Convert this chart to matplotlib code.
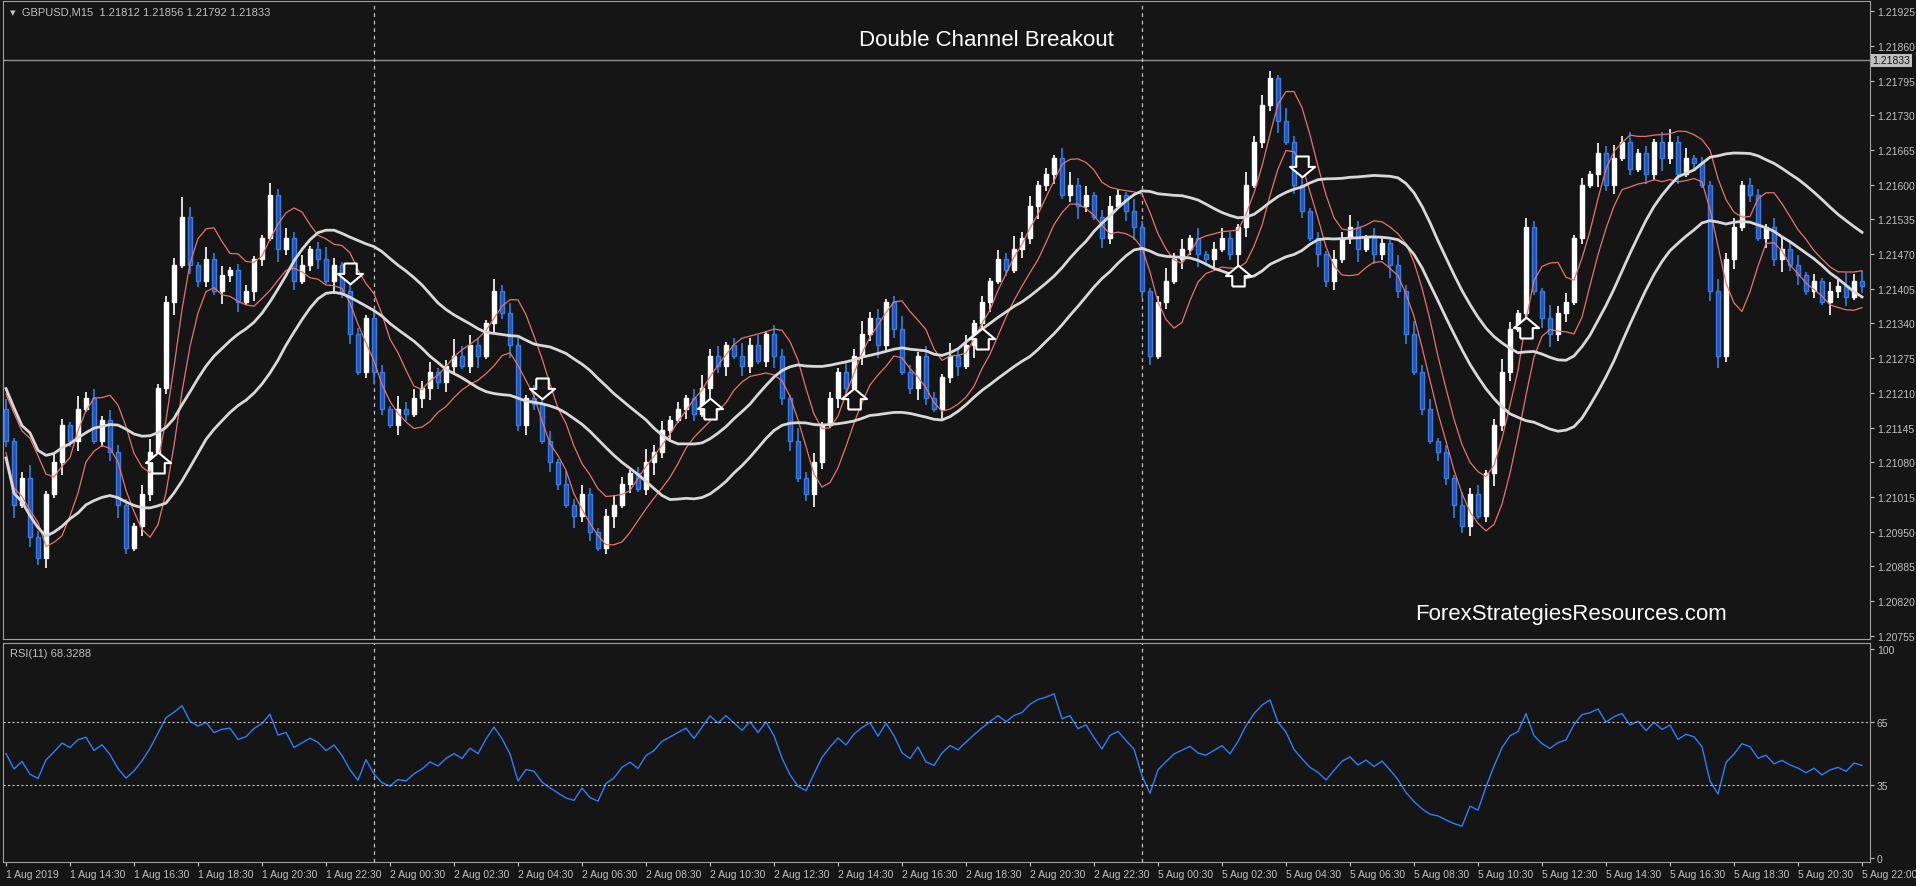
import matplotlib
matplotlib.use("Agg")
import matplotlib.pyplot as plt
import numpy as np
from matplotlib.path import Path

plt.rcParams['font.family'] = ['Liberation Sans', 'DejaVu Sans']

closes = [1.2112,1.2100,1.2105,1.2094,1.2090,1.2102,1.2108,1.2115,1.2112,1.2118,
1.2120,1.2112,1.2116,1.2110,1.2100,1.2092,1.2096,1.2102,1.2110,1.2122,
1.2138,1.2145,1.2154,1.2145,1.2142,1.2146,1.2140,1.2143,1.2144,1.2138,
1.2140,1.2146,1.2150,1.2158,1.2148,1.2150,1.2142,1.2145,1.2148,1.2146,
1.2142,1.2145,1.2140,1.2132,1.2125,1.2135,1.2125,1.2118,1.2115,1.2118,
1.2117,1.2120,1.2122,1.2125,1.2123,1.2126,1.2128,1.2126,1.2130,1.2128,
1.2134,1.2140,1.2136,1.2130,1.2115,1.2120,1.2119,1.2112,1.2108,1.2104,
1.2100,1.2098,1.2102,1.2095,1.2092,1.2098,1.2100,1.2104,1.2106,1.2103,
1.2108,1.2110,1.2114,1.2116,1.2118,1.2120,1.2117,1.2122,1.2128,1.2126,
1.2130,1.2128,1.2126,1.2130,1.2127,1.2132,1.2128,1.2120,1.2112,1.2105,
1.2102,1.2108,1.2115,1.2120,1.2125,1.2122,1.2128,1.2132,1.2135,1.2130,
1.2138,1.2133,1.2125,1.2122,1.2128,1.2120,1.2118,1.2124,1.2128,1.2126,
1.2130,1.2134,1.2138,1.2142,1.2146,1.2144,1.2148,1.2150,1.2156,1.2160,
1.2162,1.2165,1.2158,1.2160,1.2156,1.2158,1.2154,1.2150,1.2156,1.2158,
1.2155,1.2152,1.2140,1.2128,1.2138,1.2142,1.2146,1.2148,1.2150,1.2147,
1.2146,1.2148,1.2150,1.2147,1.2152,1.2160,1.2168,1.2175,1.2180,1.2172,
1.2168,1.2160,1.2155,1.2150,1.2147,1.2142,1.2146,1.2150,1.2152,1.2148,
1.2150,1.2147,1.2149,1.2145,1.2140,1.2132,1.2125,1.2118,1.2112,1.2110,
1.2105,1.2100,1.2096,1.2102,1.2098,1.2106,1.2115,1.2125,1.2133,1.2136,
1.2152,1.2140,1.2135,1.2132,1.2136,1.2138,1.2150,1.2160,1.2162,1.2166,
1.2160,1.2165,1.2168,1.2163,1.2166,1.2162,1.2168,1.2165,1.2168,1.2162,
1.2165,1.2164,1.2160,1.2140,1.2128,1.2146,1.2152,1.2160,1.2158,1.2150,
1.2152,1.2146,1.2148,1.2145,1.2143,1.2140,1.2142,1.2138,1.2140,1.2141,
1.2139,1.2142,1.2141]
first_open = 1.2118
# wick sizes in units of 0.00006
upper_wicks = ("3124213214231322134122631423122114232312421321"
               "3214232312533214232142314232123212423121342312"
               "4231321423121324231242132142312132423121342312"
               "3214212423131232142321423121324213213242312142"
               "31242132142312132423121342312142312"
               "21342312132423121342")
lower_wicks = ("2413231423112342132124132214231321423123142312"
               "4213213423212413242321321423124131242313214231"
               "3212423124213213242312421323142312132423124213"
               "2134231213242312431224132142312413242312132423"
               "12423121342312142312132423121342312"
               "13242312142312132423")
up_arrows = [19, 88, 106, 122, 154, 190]
down_arrows = [43, 67, 162]
tick_bars = list(range(0, 232, 8)) + [232]
tick_labels = ["1 Aug 2019", "1 Aug 14:30", "1 Aug 16:30", "1 Aug 18:30", "1 Aug 20:30", "1 Aug 22:30",
               "2 Aug 00:30", "2 Aug 02:30", "2 Aug 04:30", "2 Aug 06:30", "2 Aug 08:30", "2 Aug 10:30",
               "2 Aug 12:30", "2 Aug 14:30", "2 Aug 16:30", "2 Aug 18:30", "2 Aug 20:30", "2 Aug 22:30",
               "5 Aug 00:30", "5 Aug 02:30", "5 Aug 04:30", "5 Aug 06:30", "5 Aug 08:30", "5 Aug 10:30",
               "5 Aug 12:30", "5 Aug 14:30", "5 Aug 16:30", "5 Aug 18:30", "5 Aug 20:30", "5 Aug 22:00"]
day_separators = [46, 142]
price_ticks = [round(1.21925 - 0.00065 * k, 5) for k in range(19)]
bid_price = 1.21833

n = len(closes)
c = np.array(closes)
o = np.concatenate([[first_open], c[:-1]])
uw = np.array([int(ch) for ch in upper_wicks[:n]]) * 0.00006
lw = np.array([int(ch) for ch in lower_wicks[:n]]) * 0.00006
h = np.maximum(o, c) + uw
l = np.minimum(o, c) - lw

def sma(a, p):
    out = np.full(len(a), np.nan)
    for i in range(len(a)):
        j = max(0, i - p + 1)
        out[i] = a[j:i + 1].mean()
    return out

def rsi(a, p):
    d = np.diff(a, prepend=a[0])
    g = np.where(d > 0, d, 0.0); ls = np.where(d < 0, -d, 0.0)
    ag = g[1:p + 1].mean(); al = ls[1:p + 1].mean()
    out = np.full(len(a), 50.0)
    for i in range(1, len(a)):
        ag = (ag * (p - 1) + g[i]) / p; al = (al * (p - 1) + ls[i]) / p
        out[i] = 100 - 100 / (1 + ag / al) if al > 0 else 100
    return out

BG = "#151515"; FG = "#c0c0c0"
fig = plt.figure(figsize=(19.16, 8.87), dpi=100, facecolor=BG)
ax = fig.add_axes([3/1916, 1-640/887, 1867/1916, 638/887], facecolor=BG)
ar = fig.add_axes([3/1916, 1-863/887, 1867/1916, 219/887], facecolor=BG)
x = np.arange(n)

for i in range(n):
    bull = c[i] >= o[i]
    col = "white" if bull else "#2f7fe8"
    ax.vlines(i, l[i], h[i], color=col, lw=1.2, zorder=3)
    bot = min(o[i], c[i]); ht = max(abs(c[i] - o[i]), 0.00002)
    ax.bar(i, ht, bottom=bot, width=0.62, color="white" if bull else "#3a4aa8",
           edgecolor=col, lw=1, zorder=4)

ax.plot(x, sma(h, 5) + 0.0001, color="#e8736c", lw=0.9, zorder=5)
ax.plot(x, sma(l, 5) - 0.0001, color="#e8736c", lw=0.9, zorder=5)
ax.plot(x, sma(h, 20) + 0.0002, color="#d8d8d8", lw=2, zorder=5)
ax.plot(x, sma(l, 20) - 0.0002, color="#d8d8d8", lw=2, zorder=5)

arrow = Path([(-0.3, 0), (-0.3, 0.5), (-0.6, 0.5), (0, 1), (0.6, 0.5), (0.3, 0.5), (0.3, 0), (-0.3, 0)])
darrow = Path([(px, -py) for px, py in arrow.vertices])
for b in up_arrows:
    ax.plot(b, l[b] - 0.00035, marker=arrow, ms=30, mfc=BG, mec="white", mew=1.5, zorder=6)
for b in down_arrows:
    ax.plot(b, h[b] + 0.00035, marker=darrow, ms=30, mfc=BG, mec="white", mew=1.5, zorder=6)

ax.axhline(bid_price, color="#909090", lw=1)
for a in (ax, ar):
    for d in day_separators:
        a.axvline(d, color="#c0c0c0", lw=0.9, ls=(0, (3, 3)))
    a.set_xlim(-0.375, 233)
    for s in a.spines.values():
        s.set_color("#a0a0a0")
    a.yaxis.tick_right()
    a.tick_params(colors=FG, labelsize=7.5, length=3, pad=2, direction="out")

ax.set_ylim(1.20749, 1.21944)
ax.set_yticks(price_ticks)
ax.set_yticklabels([f"{p:.5f}" for p in price_ticks])
ax.set_xticks([])
ax.text(1.0012, bid_price, f"{bid_price:.5f}", transform=ax.get_yaxis_transform(), va="center",
        ha="left", fontsize=7.5, color="#151515", bbox=dict(boxstyle="square,pad=0.15", fc="#c0c0c0", ec="none"))
ax.text(0.004, 0.992, "▾  GBPUSD,M15  1.21812 1.21856 1.21792 1.21833", transform=ax.transAxes,
        color=FG, fontsize=8, va="top")
ax.text(0.527, 0.94, "Double Channel Breakout", transform=ax.transAxes, color="white",
        fontsize=16, ha="center", va="center")
ax.text(0.84, 0.04, "ForexStrategiesResources.com", transform=ax.transAxes, color="white",
        fontsize=16, ha="center", va="center")

r = rsi(c, 11)
ar.plot(x, r, color="#2a7fff", lw=1)
for lv in (65, 35):
    ar.axhline(lv, color="#c0c0c0", lw=0.8, ls=(0, (2, 2)))
ar.set_ylim(-1.9, 102.9)
ar.set_yticks([100, 65, 35, 0])
ar.set_xticks(tick_bars)
ar.set_xticklabels(tick_labels, ha="left")
ar.tick_params(axis="x", labelsize=7.5)
ar.text(0.004, 0.975, "RSI(11) 68.3288", transform=ar.transAxes, color=FG, fontsize=8, va="top")

fig.savefig("out.png", dpi=100, facecolor=BG)
